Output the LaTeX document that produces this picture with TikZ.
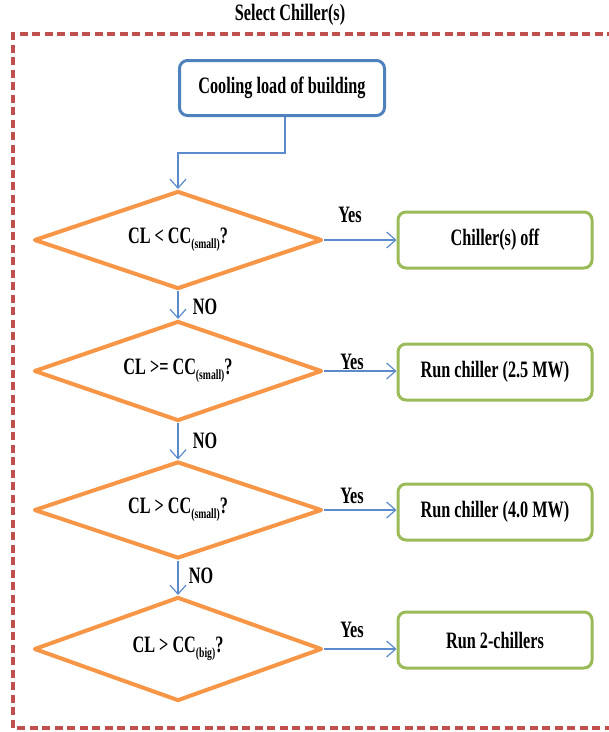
\documentclass[tikz,border=0pt]{standalone}
\usepackage{fontspec}
\setmainfont{Liberation Serif}
\usetikzlibrary{shapes.geometric,arrows.meta}
\definecolor{frameRed}{HTML}{C0504D}
\definecolor{boxBlue}{HTML}{4F81BD}
\definecolor{lineBlue}{HTML}{5B8BCC}
\definecolor{diaOrange}{HTML}{F79646}
\definecolor{boxGreen}{HTML}{9BBB59}
\newcommand{\sq}[1]{\scalebox{0.69}[1]{#1}}
\newcommand{\subtxt}[1]{\raisebox{-5pt}{\fontsize{14}{14}\selectfont #1}}
\tikzset{
  lbl/.style={font=\fontsize{23.5}{26}\selectfont\bfseries, inner sep=0pt},
  startbox/.style={draw=boxBlue, line width=3pt, rounded corners=8pt, fill=white,
    minimum width=205pt, minimum height=55pt, inner sep=0pt, font=\fontsize{23.5}{26}\selectfont\bfseries},
  endbox/.style={draw=boxGreen, line width=3pt, rounded corners=8pt, fill=white,
    minimum width=194pt, minimum height=56pt, inner sep=0pt, font=\fontsize{23.5}{26}\selectfont\bfseries},
  decision/.style={diamond, draw=diaOrange, line width=4pt, line join=round, fill=white,
    aspect=2.94, inner sep=0pt, font=\fontsize{23.5}{26}\selectfont\bfseries},
  conn/.style={draw=lineBlue, line width=1.2pt, -{Straight Barb[length=9pt,width=16pt,line width=1.2pt]}},
}
\begin{document}
\begin{tikzpicture}[x=1pt,y=-1pt]
\useasboundingbox (0,0) rectangle (609,732);
% frame
\draw[frameRed, line width=3.2pt, dash pattern=on 8pt off 4.5pt] (640,34) -- (13,34) -- (13,728) -- (640,728);
\node[lbl] (title) at (290,15) {\sq{Select Chiller(s)}};
% start
\node[startbox] (cl) at (282,88) {\sq{Cooling load of building}};
% decisions
\node[decision, minimum width=288pt, minimum height=98pt] (d1) at (178,240) {\sq{CL < CC\subtxt{(small)}?}};
\node[decision, minimum width=288pt, minimum height=100pt] (d2) at (178,371) {\sq{CL >= CC\subtxt{(small)}?}};
\node[decision, minimum width=288pt, minimum height=97pt] (d3) at (178,510) {\sq{CL > CC\subtxt{(small)}?}};
\node[decision, minimum width=288pt, minimum height=104pt] (d4) at (178,649) {\sq{CL > CC\subtxt{(big)}?}};
% outcomes
\node[endbox] (b1) at (495,240) {\sq{Chiller(s) off}};
\node[endbox] (b2) at (495,372) {\sq{Run chiller (2.5 MW)}};
\node[endbox] (b3) at (495,512) {\sq{Run chiller (4.0 MW)}};
\node[endbox] (b4) at (495,640) {\sq{Run 2-chillers}};
% connectors
\coordinate (bend) at (285,153);
\draw[conn] (cl.south -| bend) -- (bend) -| (d1.north);
\draw[conn] (d1.south) -- (d2.north);
\draw[conn] (d2.south) -- (d3.north);
\draw[conn] (d3.south) -- (d4.north);
\draw[conn] (d1.east) -- (d1.east -| b1.west);
\draw[conn] (d2.east) -- (d2.east -| b2.west);
\draw[conn] (d3.east) -- (d3.east -| b3.west);
\draw[conn] (d4.east) -- (d4.east -| b4.west);
% labels
\node[lbl] (no1) at (205,307) {\sq{NO}};
\node[lbl] (no2) at (205,441) {\sq{NO}};
\node[lbl] (no3) at (201,576) {\sq{NO}};
\node[lbl] (y1) at (350,215) {\sq{Yes}};
\node[lbl] (y2) at (352,362) {\sq{Yes}};
\node[lbl] (y3) at (352,496) {\sq{Yes}};
\node[lbl] (y4) at (352,630) {\sq{Yes}};
\end{tikzpicture}
\end{document}
